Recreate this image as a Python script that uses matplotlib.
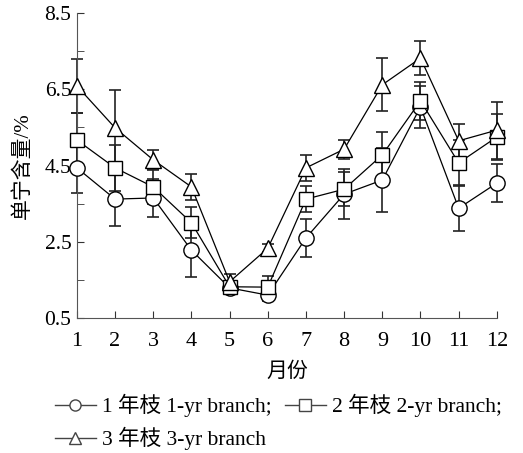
import numpy as np
import matplotlib
matplotlib.use('Agg')
import matplotlib.pyplot as plt
from matplotlib.lines import Line2D

plt.rcParams['font.family'] = ['Liberation Serif', 'Noto Sans CJK SC']

months = np.arange(1, 13)

# 1-yr branch
yr1 = [4.44, 3.62, 3.65, 2.28, 1.29, 1.10, 2.60, 3.75, 4.12, 6.04, 3.38, 4.04]
yr1_err = [0.65, 0.70, 0.50, 0.70, 0.15, 0.15, 0.50, 0.65, 0.85, 0.55, 0.60, 0.50]
# 2-yr branch
yr2 = [5.17, 4.44, 3.94, 3.00, 1.32, 1.31, 3.62, 3.88, 4.78, 6.20, 4.57, 5.25]
yr2_err = [0.70, 0.60, 0.45, 0.40, 0.15, 0.30, 0.35, 0.45, 0.60, 0.50, 0.60, 0.60]
# 3-yr branch
yr3 = [6.59, 5.49, 4.65, 3.94, 1.45, 2.33, 4.44, 4.93, 6.62, 7.32, 5.15, 5.43]
yr3_err = [0.70, 1.00, 0.25, 0.35, 0.20, 0.10, 0.35, 0.25, 0.70, 0.45, 0.45, 0.75]

labels = ['1 年枝 1-yr branch;', '2 年枝 2-yr branch;', '3 年枝 3-yr branch']
markers = ['o', 's', '^']

fig = plt.figure(figsize=(5.23, 4.53), dpi=100)
ax = fig.add_axes([0.147, 0.298, 0.803, 0.673])

handles = []
for y, e, m in zip([yr1, yr2, yr3], [yr1_err, yr2_err, yr3_err], markers):
    ax.errorbar(months, y, yerr=e, fmt='none', ecolor='#222222', elinewidth=1.2,
                capsize=4, capthick=1.2, clip_on=False, zorder=2)
    ax.plot(months, y, color='black', lw=0.9, marker=m, markersize=11 if m != 's' else 10,
            markerfacecolor='white', markeredgecolor='black', markeredgewidth=1.0,
            clip_on=False, zorder=3)
    handles.append(Line2D([], [], color='#444444', lw=1.0, marker=m, markersize=8,
                          markerfacecolor='white', markeredgecolor='#444444'))

ax.set_xlim(1, 12)
ax.set_ylim(0.5, 8.5)
ax.set_xticks(months)
ax.set_yticks([0.5, 2.5, 4.5, 6.5, 8.5])
ax.set_yticks([1.5, 3.5, 5.5, 7.5], minor=True)
ax.tick_params(axis='both', which='both', direction='in', color='#333333')
ax.tick_params(axis='both', which='major', length=5)
ax.tick_params(axis='y', which='minor', length=5)
ax.tick_params(axis='x', labelsize=16, pad=10)
ax.tick_params(axis='y', labelsize=15.5, pad=4)
ax.spines['top'].set_visible(False)
ax.spines['right'].set_visible(False)
for s in ['left', 'bottom']:
    ax.spines[s].set_color('#555555')

ax.set_xlabel('月份', fontsize=15, labelpad=8)
ax.set_ylabel('单宁含量/%', fontsize=15, labelpad=8)

# legend laid out in rows: 1, 2 on first row, 3 on second
order = [0, 2, 1]
leg = fig.legend([handles[i] for i in order], [labels[i] for i in order], ncol=2,
                 loc='upper left', bbox_to_anchor=(0.105, 0.13), frameon=False,
                 fontsize=15.5, handlelength=1.9, handletextpad=0.3, columnspacing=0.6,
                 labelspacing=0.45, borderaxespad=0, borderpad=0)

fig.savefig('out.png', dpi=100)
